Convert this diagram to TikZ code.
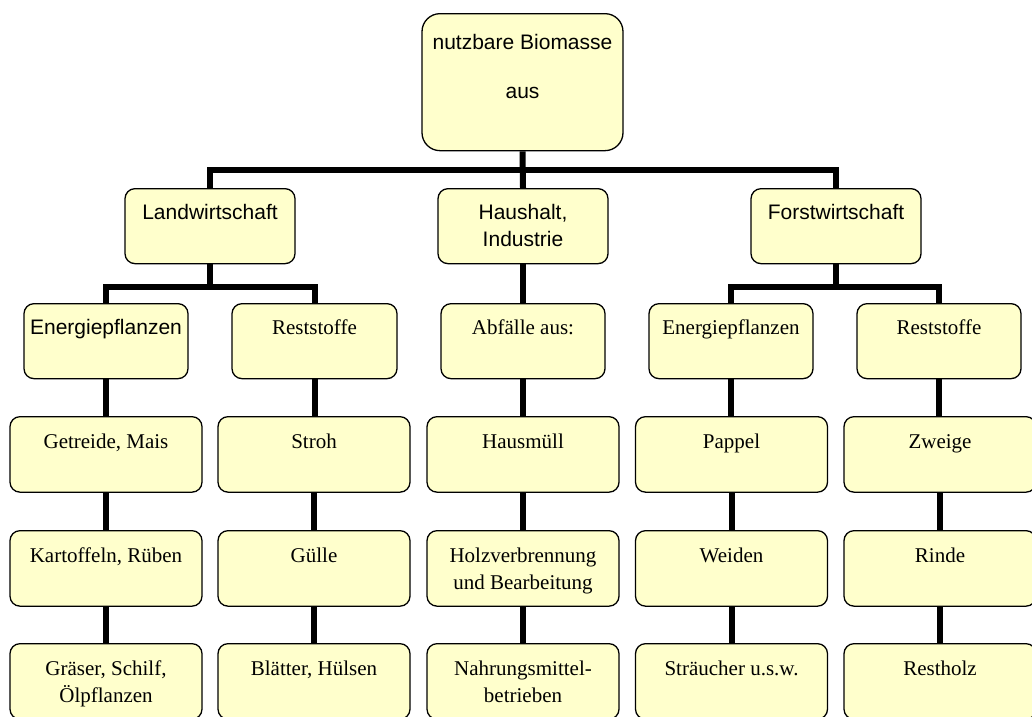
\documentclass[tikz,border=0pt]{standalone}
\usepackage{fontspec}
\setmainfont{Liberation Serif}
\setsansfont{Liberation Sans}
\usetikzlibrary{backgrounds}
\definecolor{boxyellow}{RGB}{255,255,204}
\tikzset{
  box/.style={draw=black, line width=1.3pt, fill=boxyellow, rounded corners=10pt,
    anchor=north, inner xsep=0pt, inner ysep=0pt, align=center,
    text height=30.5pt, text depth=44.5pt},
  rowa/.style={box, minimum width=170pt, font=\sffamily\fontsize{21}{27}\selectfont},
  rowb/.style={box, minimum width=164pt},
  rowc/.style={box, minimum width=192pt, text height=31.5pt, text depth=44pt},
  twolines/.style={text height=58.5pt, text depth=17pt},
  sf/.style={font=\sffamily\fontsize{21}{27}\selectfont},
  rm/.style={font=\rmfamily\fontsize{21}{27}\selectfont},
  conn/.style={draw=black, line width=6pt}
}
\begin{document}
\begin{tikzpicture}[x=1pt,y=-1pt]
\useasboundingbox (0,0) rectangle (1032,716);
\clip (0,0) rectangle (1032,716);
% top
\node[box, sf, rounded corners=18pt, minimum width=201pt, text height=84.5pt, text depth=52.5pt] (top) at (522.5,13) {nutzbare Biomasse\\[22pt]aus};
% level 1
\node[rowa] (land) at (210,188) {Landwirtschaft};
\node[rowa, text height=57.5pt, text depth=17.5pt] (haus) at (523,188) {Haushalt,\\Industrie};
\node[rowa] (forst) at (836,188) {Forstwirtschaft};
% level 2
\node[rowb, sf] (enL) at (106,303) {Energiepflanzen};
\node[rowb, rm, minimum width=165pt] (reL) at (314.5,303) {Reststoffe};
\node[rowb, rm] (abf) at (523,303) {Abfälle aus:};
\node[rowb, rm] (enR) at (731,303) {Energiepflanzen};
\node[rowb, rm] (reR) at (939,303) {Reststoffe};
% level 3
\node[rowc, rm] (a1) at (106,416) {Getreide, Mais};
\node[rowc, rm] (b1) at (314,416) {Stroh};
\node[rowc, rm] (c1) at (523,416) {Hausmüll};
\node[rowc, rm] (d1) at (731.5,416) {Pappel};
\node[rowc, rm] (e1) at (940,416) {Zweige};
% level 4
\node[rowc, rm] (a2) at (106,530) {Kartoffeln, Rüben};
\node[rowc, rm] (b2) at (314,530) {Gülle};
\node[rowc, rm, twolines] (c2) at (523,530) {Holzverbrennung\\und Bearbeitung};
\node[rowc, rm] (d2) at (731.5,530) {Weiden};
\node[rowc, rm] (e2) at (940,530) {Rinde};
% level 5
\node[rowc, rm, twolines] (a3) at (106,643) {Gräser, Schilf,\\Ölpflanzen};
\node[rowc, rm] (b3) at (314,643) {Blätter, Hülsen};
\node[rowc, rm, twolines] (c3) at (523,643) {Nahrungsmittel-\\betrieben};
\node[rowc, rm] (d3) at (731.5,643) {Sträucher u.s.w.};
\node[rowc, rm] (e3) at (940,643) {Restholz};
% connectors
\begin{scope}[on background layer]
\draw[conn] (top.south) -- (haus.north);
\draw[conn] (land.north) -- ++(0,-18) coordinate (jT) -| (forst.north);
\path (land.south) ++(0,23) coordinate (jL);
\path (forst.south) ++(0,23) coordinate (jR);
\draw[conn] (land.south) -- (jL);
\draw[conn] (enL.north) |- (jL) -| (reL.north);
\draw[conn] (haus.south) -- (abf.north);
\draw[conn] (forst.south) -- (jR);
\draw[conn] (enR.north) |- (jR) -| (reR.north);
\draw[conn] (enL.south) -- (a1.north);
\draw[conn] (reL.south) -- (reL.south |- b1.north);
\draw[conn] (abf.south) -- (c1.north);
\draw[conn] (enR.south) -- (enR.south |- d1.north);
\draw[conn] (reR.south) -- (reR.south |- e1.north);
\draw[conn] (a1.south) -- (a2.north);
\draw[conn] (b1.south) -- (b2.north);
\draw[conn] (c1.south) -- (c2.north);
\draw[conn] (d1.south) -- (d2.north);
\draw[conn] (e1.south) -- (e2.north);
\draw[conn] (a2.south) -- (a3.north);
\draw[conn] (b2.south) -- (b3.north);
\draw[conn] (c2.south) -- (c3.north);
\draw[conn] (d2.south) -- (d3.north);
\draw[conn] (e2.south) -- (e3.north);
\end{scope}
\end{tikzpicture}
\end{document}
